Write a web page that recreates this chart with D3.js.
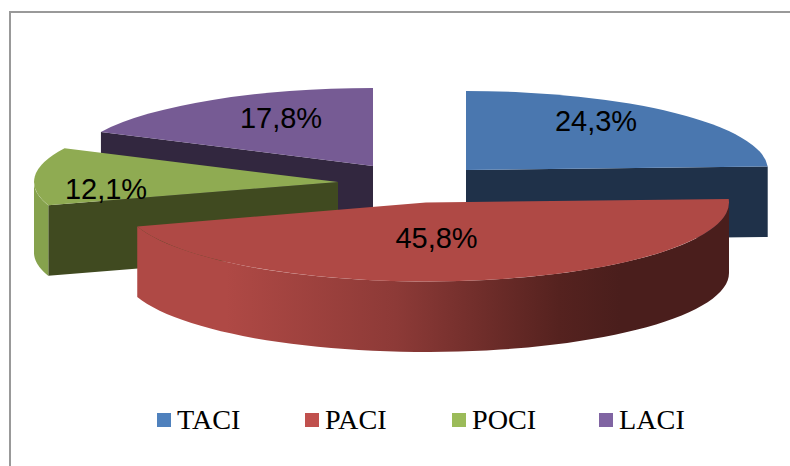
<!DOCTYPE html>
<html>
<head>
<meta charset="utf-8">
<script src="https://cdn.jsdelivr.net/npm/d3@7"></script>
<style>
  html, body { margin: 0; padding: 0; background: #fff; }
  svg { display: block; }
</style>
</head>
<body>
<div id="chart"></div>
<script>
// data
var categories = ["TACI", "PACI", "POCI", "LACI"];
var shares = [24.3, 45.8, 12.1, 17.8];
var shareLabels = ["24,3%", "45,8%", "12,1%", "17,8%"];

// colours
var legendColors = ["#4F81BD", "#C0504D", "#9BBB59", "#8064A2"];
var topColors = ["#4A77AF", "#AF4945", "#8FAB52", "#765B94"];
var faceColors = ["#1F3149", "#4A1E1C", "#404A20", "#32273F"];
var wallColors = ["#4A77AF", "url(#wall-red)", "#86A24D", "#765B94"];

// layout of the exploded pie, one center and radius per slice
var centers = [[466, 170], [426, 202.5], [338, 182], [373, 166]];
var radiiX = [302, 303, 304, 302.5];
var radiiY = [79, 79, 77, 78];
var depth = 70.5;
var labelPos = [[596, 121], [436.5, 238], [106, 189], [281, 118]];
var legendX = [157, 305, 452, 599];
var drawOrder = [3, 0, 2, 1];

var w = 790, h = 466;

var svg = d3.select("#chart").append("svg").attr("width", w).attr("height", h);

var defs = svg.append("defs");

// side wall shading, runs left to right across the wall
var wallGrad = defs.append("linearGradient").attr("id", "wall-red")
    .attr("gradientUnits", "userSpaceOnUse")
    .attr("x1", 123).attr("x2", 729).attr("y1", 0).attr("y2", 0);
wallGrad.append("stop").attr("offset", "0.17").attr("stop-color", "#AF4945");
wallGrad.append("stop").attr("offset", "0.45").attr("stop-color", "#8D3A37");
wallGrad.append("stop").attr("offset", "0.72").attr("stop-color", "#55221F");
wallGrad.append("stop").attr("offset", "0.82").attr("stop-color", "#4A1E1C");
wallGrad.append("stop").attr("offset", "1").attr("stop-color", "#4A1E1C");

var arcs = d3.pie().sort(null).startAngle(0).endAngle(2 * Math.PI)(shares);

// point on the rim of slice i at a pie angle (0 = 12 o'clock, clockwise)
function rim(i, a, dy) {
    return [centers[i][0] + radiiX[i] * Math.sin(a),
            centers[i][1] - radiiY[i] * Math.cos(a) + (dy || 0)];
}

var arcGen = d3.arc().innerRadius(0);
var line = d3.line();

function wallPath(i, a0, a1) {
    var steps = d3.range(0, 61).map(function (k) { return a0 + (a1 - a0) * k / 60; });
    var upper = steps.map(function (a) { return rim(i, a, 0); });
    var lower = steps.slice().reverse().map(function (a) { return rim(i, a, depth); });
    return line(upper.concat(lower)) + "Z";
}

function facePath(i, a) {
    var c = centers[i], p = rim(i, a, 0);
    return line([c, p, [p[0], p[1] + depth], [c[0], c[1] + depth]]) + "Z";
}

var pie = svg.append("g");

drawOrder.forEach(function (i) {
    var d = arcs[i];
    var g = pie.append("g");

    // cut faces turned to the viewer
    if (d.startAngle > Math.PI) {
        g.append("path").attr("d", facePath(i, d.startAngle)).attr("fill", faceColors[i]);
    }
    if (d.endAngle < Math.PI) {
        g.append("path").attr("d", facePath(i, d.endAngle)).attr("fill", faceColors[i]);
    }

    // outer wall, only the front half of the rim shows
    var a0 = Math.max(d.startAngle, Math.PI / 2);
    var a1 = Math.min(d.endAngle, 3 * Math.PI / 2);
    if (a1 > a0) {
        g.append("path").attr("d", wallPath(i, a0, a1)).attr("fill", wallColors[i]);
    }

    // top surface
    g.append("path")
        .attr("d", arcGen.outerRadius(radiiX[i])(d))
        .attr("transform", "translate(" + centers[i][0] + "," + centers[i][1] + ") scale(1," + (radiiY[i] / radiiX[i]) + ")")
        .attr("fill", topColors[i]);
});

// labels
svg.append("g").selectAll("text")
    .data(shareLabels)
    .enter().append("text")
    .attr("x", function (d, i) { return labelPos[i][0]; })
    .attr("y", function (d, i) { return labelPos[i][1]; })
    .attr("text-anchor", "middle")
    .attr("dy", ".35em")
    .style("font-family", "'Liberation Sans', Arial, sans-serif")
    .style("font-size", "29px")
    .style("fill", "#000")
    .text(function (d) { return d; });

// legend
var legend = svg.append("g").selectAll("g")
    .data(categories)
    .enter().append("g")
    .attr("transform", function (d, i) { return "translate(" + legendX[i] + ",413)"; });

legend.append("rect")
    .attr("width", 14).attr("height", 14)
    .attr("fill", function (d, i) { return legendColors[i]; });

legend.append("text")
    .attr("x", 20).attr("y", 16)
    .style("font-family", "'Liberation Serif', 'Times New Roman', serif")
    .style("font-size", "28.2px")
    .style("fill", "#000")
    .text(function (d) { return d; });

// chart frame, open on the right and at the bottom
svg.append("path")
    .attr("d", "M10,466V12H790")
    .attr("fill", "none")
    .attr("stroke", "#999")
    .attr("stroke-width", 2);
</script>
</body>
</html>
